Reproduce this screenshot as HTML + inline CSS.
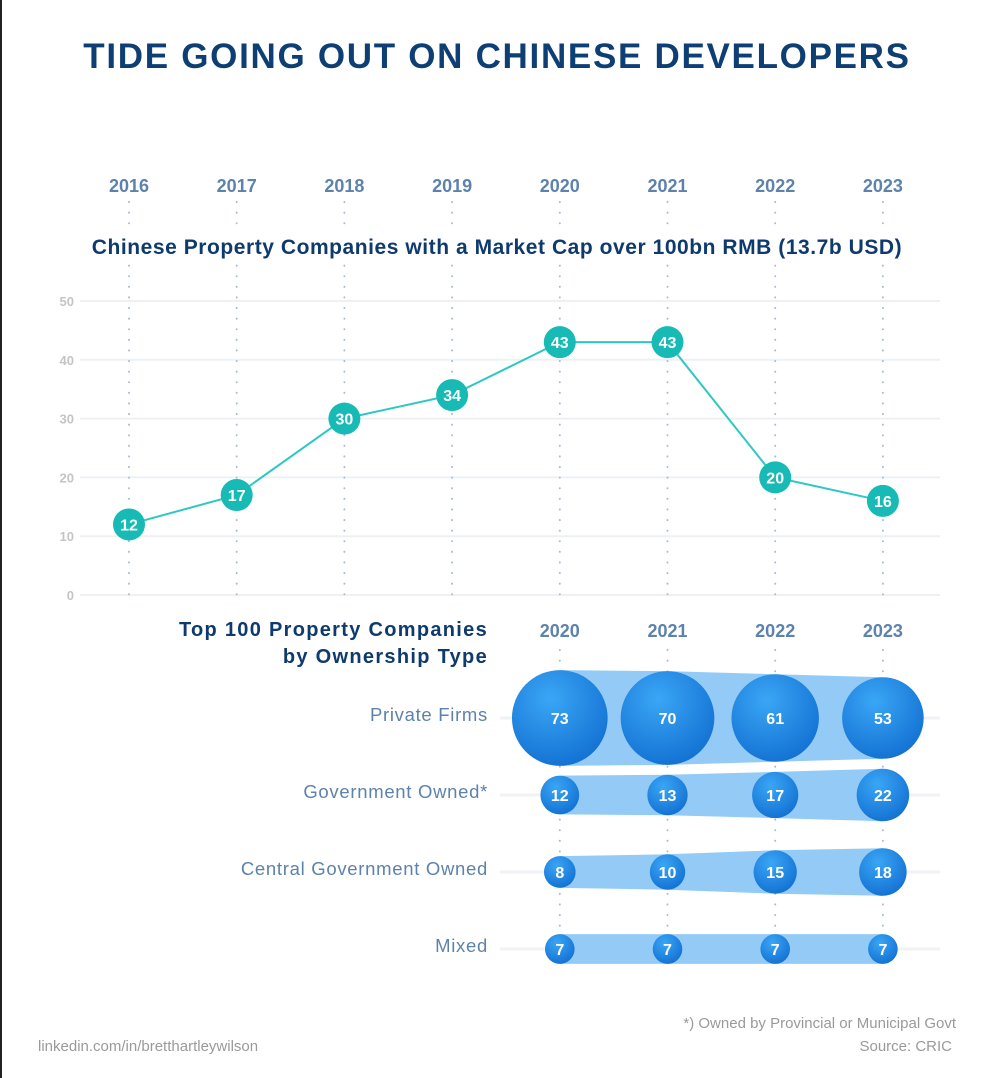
<!DOCTYPE html>
<html><head><meta charset="utf-8"><style>
html,body{margin:0;padding:0;background:#fff;}
body{width:994px;height:1078px;position:relative;overflow:hidden;font-family:"Liberation Sans",sans-serif;}
</style></head><body>
<div style="position:absolute;left:0;top:0;width:2px;height:1078px;background:#222"></div>
<svg id="chart" width="994" height="1078" style="position:absolute;left:0;top:0">
<defs>
<radialGradient id="bub" cx="0.4" cy="0.3" r="0.75">
<stop offset="0" stop-color="#3aa6f5"/><stop offset="1" stop-color="#1270d2"/>
</radialGradient>
</defs>
<text x="497" y="68" text-anchor="middle" font-size="35" font-weight="bold" fill="#0e3f74" letter-spacing="1.7">TIDE GOING OUT ON CHINESE DEVELOPERS</text>
<g id="g"></g>
<rect x="80" y="230" width="840" height="30" fill="#fff"/>
<text x="497" y="254" text-anchor="middle" font-size="21" font-weight="bold" fill="#0e3a6e" letter-spacing="0.55">Chinese Property Companies with a Market Cap over 100bn RMB (13.7b USD)</text>
<text x="488" y="636" text-anchor="end" font-size="20" font-weight="bold" fill="#0e3a6e" letter-spacing="1.3">Top 100 Property Companies</text>
<text x="488" y="663" text-anchor="end" font-size="20" font-weight="bold" fill="#0e3a6e" letter-spacing="1.3">by Ownership Type</text>
<text x="38" y="1051" font-size="15" fill="#9a9a9a">linkedin.com/in/bretthartleywilson</text>
<text x="956" y="1028" text-anchor="end" font-size="15" fill="#9a9a9a">*) Owned by Provincial or Municipal Govt</text>
<text x="952" y="1051" text-anchor="end" font-size="15" fill="#9a9a9a">Source: CRIC</text>
<g id="g2"></g>
</svg>
<script>
const years = ["2016","2017","2018","2019","2020","2021","2022","2023"];
const capCounts = [12,17,30,34,43,43,20,16];
const yTicks = [0,10,20,30,40,50];
const bubbleYears = ["2020","2021","2022","2023"];
const categories = ["Private Firms","Government Owned*","Central Government Owned","Mixed"];
const privateFirms = [73,70,61,53];
const govOwned = [12,13,17,22];
const centralGov = [8,10,15,18];
const mixed = [7,7,7,7];
const bubbleSeries = [privateFirms, govOwned, centralGov, mixed];

const NS="http://www.w3.org/2000/svg";
const g=document.getElementById('g');
const g2=document.getElementById('g2');
function mk(t,a,p){const e=document.createElementNS(NS,t);for(const k in a)e.setAttribute(k,a[k]);(p||g).appendChild(e);return e;}
const xScale=i=>129+i*107.7;
const yScale=v=>595-v*5.88;
const rowY=i=>718+i*77;
const rScale=v=>5.6*Math.sqrt(v);
const bx=y=>xScale(years.indexOf(y));

yTicks.forEach(t=>{
 const l=mk('line',{x1:80,x2:940,y1:yScale(t),y2:yScale(t),stroke:'#eef0f4','stroke-width':2});
 
 
 const tx=mk('text',{x:74,y:yScale(t)+5,'text-anchor':'end','font-size':13,'font-weight':'bold',fill:'#c4c4c4'});
 tx.textContent=t;
 
 
});
years.forEach((y,i)=>{
 const x=xScale(i);
 const l=mk('line',{x1:x,x2:x,y1:202,y2:597,stroke:'#a9bcd4','stroke-width':2,'stroke-dasharray':'0.1 10.5','stroke-linecap':'round'});
 
 
 const t=mk('text',{x:x,y:192,'text-anchor':'middle','font-size':18,'font-weight':'bold',fill:'#5d82ab'});
 t.textContent=y;
 
 
});
const pts=capCounts.map((v,i)=>xScale(i)+','+yScale(v)).join(' ');
const pl=mk('polyline',{points:pts,fill:'none',stroke:'#2cc8c2','stroke-width':2},g2);


capCounts.forEach((v,i)=>{
 const c=mk('circle',{cx:xScale(i),cy:yScale(v),r:16,fill:'#17bab4'},g2);
 
 
 const t=mk('text',{x:xScale(i),y:yScale(v)+6,'text-anchor':'middle','font-size':16,'font-weight':'bold',fill:'#fff'},g2);
 t.textContent=v;
 
 
});
bubbleYears.forEach(y=>{
 const x=bx(y);
 const l=mk('line',{x1:x,x2:x,y1:650,y2:960,stroke:'#a9bcd4','stroke-width':2,'stroke-dasharray':'0.1 10.5','stroke-linecap':'round'},g2);
 
 
 const t=mk('text',{x:x,y:637,'text-anchor':'middle','font-size':18,'font-weight':'bold',fill:'#5d82ab'},g2);
 t.textContent=y;
 
 
});
categories.forEach((c,ri)=>{
 const cy=rowY(ri);
 const hl=mk('line',{x1:500,x2:940,y1:cy,y2:cy,stroke:'#f0f2f6','stroke-width':3},g2);
 
 
 const t=mk('text',{x:488,y:cy+3,'text-anchor':'end','font-size':18.5,fill:'#5d82ab','letter-spacing':0.7},g2);
 t.textContent=c;
 
 
 const s=bubbleSeries[ri];
 const top=s.map((v,i)=>bx(bubbleYears[i])+','+(cy-rScale(v)));
 const bot=s.map((v,i)=>bx(bubbleYears[i])+','+(cy+rScale(v))).reverse();
 const band=mk('polygon',{points:top.concat(bot).join(' '),fill:'#94cbf6'},g2);
 
 
 s.forEach((v,i)=>{
  const x=bx(bubbleYears[i]);
  const b=mk('circle',{cx:x,cy:cy,r:rScale(v),fill:'url(#bub)'},g2);
  
  
  const tt=mk('text',{x:x,y:cy+6,'text-anchor':'middle','font-size':16,'font-weight':'bold',fill:'#fff'},g2);
  tt.textContent=v;
  
  
 });
});
</script>
</body></html>
